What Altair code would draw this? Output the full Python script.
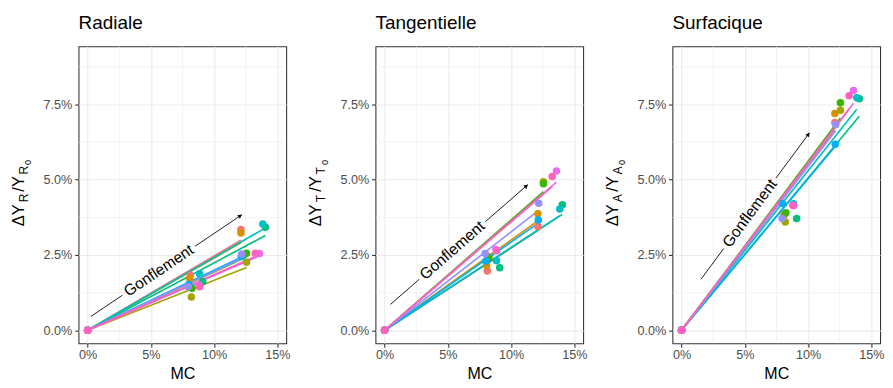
import altair as alt
import pandas as pd

FONT = "Liberation Sans"

# ---- data (in %) ----
SERIES = ["E1", "E2", "E3", "E4", "E5", "E6", "E7", "E8", "E9", "E10"]
COLORS = ["#F8766D", "#D89000", "#A3A500", "#39B600", "#00BF7D",
          "#00BFC4", "#00B0F6", "#9590FF", "#E76BF3", "#FF62BC"]

MC_MID = [8.12, 8.07, 8.20, 8.25, 9.10, 8.85, 8.00, 7.95, 8.80, 8.85]
MC_HIGH = [12.12, 12.12, 12.56, 12.56, 14.05, 13.85, 12.15, 12.18, 13.59, 13.25]

RAD_MID = [1.83, 1.72, 1.11, 1.40, 1.61, 1.88, 1.52, 1.45, 1.50, 1.45]
RAD_HIGH = [3.35, 3.23, 2.26, 2.56, 3.42, 3.53, 2.45, 2.53, 2.55, 2.56]
RAD_SLOPE = [0.247, 0.240, 0.166, 0.194, 0.224, 0.242, 0.200, 0.196, 0.182, 0.185]

TAN_MID = [1.97, 2.15, 2.44, 2.40, 2.08, 2.31, 2.30, 2.55, 2.68, 2.64]
TAN_HIGH = [3.45, 3.87, 4.93, 4.87, 4.17, 4.03, 3.66, 4.22, 5.29, 5.11]
TAN_SLOPE = [0.273, 0.300, 0.366, 0.366, 0.274, 0.275, 0.293, 0.327, 0.362, 0.360]

SUR_MID = [3.85, 3.80, 3.60, 3.90, 3.71, 4.20, 4.20, 3.71, 4.15, 4.14]
SUR_HIGH = [6.90, 7.20, 7.31, 7.56, 7.69, 7.72, 6.18, 6.83, 7.96, 7.79]
SUR_SLOPE = [0.545, 0.550, 0.555, 0.561, 0.506, 0.530, 0.503, 0.545, 0.555, 0.555]

PANELS = ["Radiale", "Tangentielle", "Surfacique"]
SUBS = ["R", "T", "A"]

# annotation arrow ("Gonflement"), in %
ARROW_X0 = [0.25, 0.46, 1.54]
ARROW_Y0 = [0.46, 0.86, 1.70]
ARROW_X1 = [12.2, 11.33, 10.12]
ARROW_Y1 = [3.84, 4.84, 6.56]
ARROW_DEG = [33.9, 41.1, 53.5]
LABEL = "Gonflement"

X_TICKS = [0, 5, 10, 15]
Y_TICKS = [0, 2.5, 5, 7.5]
X_MINOR = [2.5, 7.5, 12.5]
Y_MINOR = [1.25, 3.75, 6.25, 8.75]

W, H = 214, 306
xscale = alt.Scale(domain=[-0.0072, 0.157], nice=False, zero=False)
yscale = alt.Scale(domain=[-0.0043, 0.0943], nice=False, zero=False)
xaxis = alt.Axis(values=[v / 100 for v in X_TICKS], format=".0%", title="MC",
                 titleFontSize=16.5, titleColor="black", titleFontWeight="normal",
                 titleFont=FONT, titlePadding=4, labelPadding=2)
yaxis = alt.Axis(values=[v / 100 for v in Y_TICKS], format=".1%", title=None,
                 labelPadding=3)


def X(f):
    return alt.X(f, type="quantitative", scale=xscale, axis=xaxis)


def Y(f):
    return alt.Y(f, type="quantitative", scale=yscale, axis=yaxis)


color = alt.Color("s:N", scale=alt.Scale(domain=SERIES, range=COLORS), legend=None)


def panel(i, mid, high, slope):
    pts, lns = [], []
    for k, s in enumerate(SERIES):
        pts.append(dict(s=s, x=0.0, y=0.0))
        pts.append(dict(s=s, x=MC_MID[k] / 100, y=mid[k] / 100))
        pts.append(dict(s=s, x=MC_HIGH[k] / 100, y=high[k] / 100))
        lns.append(dict(s=s, k=0, x=0.0, y=0.0))
        lns.append(dict(s=s, k=1, x=MC_HIGH[k] / 100, y=slope[k] * MC_HIGH[k] / 100))
    pts = pd.DataFrame(pts)
    lns = pd.DataFrame(lns)

    minor_x = alt.Chart(pd.DataFrame({"v": [v / 100 for v in X_MINOR]})).mark_rule(
        color="#EBEBEB", strokeWidth=0.6).encode(x=X("v"))
    minor_y = alt.Chart(pd.DataFrame({"v": [v / 100 for v in Y_MINOR]})).mark_rule(
        color="#EBEBEB", strokeWidth=0.6).encode(y=Y("v"))

    lines = alt.Chart(lns).mark_line(strokeWidth=1.7).encode(
        x=X("x"), y=Y("y"), color=color, order="k:Q")
    points = alt.Chart(pts).mark_circle(size=60, opacity=1).encode(
        x=X("x"), y=Y("y"), color=color)

    # arrow with a gap for the label
    x0, y0, x1, y1 = ARROW_X0[i], ARROW_Y0[i], ARROW_X1[i], ARROW_Y1[i]

    def at(f):
        return (x0 + f * (x1 - x0)) / 100, (y0 + f * (y1 - y0)) / 100

    a0, a1, a2, a3 = at(0), at(0.21), at(0.69), at(1.0)
    segs = pd.DataFrame({"x": [a0[0], a2[0]], "y": [a0[1], a2[1]],
                         "x2": [a1[0], a3[0]], "y2": [a1[1], a3[1]]})
    arrow = alt.Chart(segs).mark_rule(color="black", strokeWidth=0.9).encode(
        x=X("x"), y=Y("y"), x2="x2", y2="y2")
    tip = at(0.985)
    head = alt.Chart(pd.DataFrame({"x": [tip[0]], "y": [tip[1]]})).mark_point(
        shape="triangle", filled=True, size=22, color="black", opacity=1,
        angle=90 - ARROW_DEG[i]).encode(x=X("x"), y=Y("y"))
    c = at(0.45)
    label = alt.Chart(pd.DataFrame({"x": [c[0]], "y": [c[1]], "t": [LABEL]})).mark_text(
        font=FONT, fontSize=16, color="black", angle=360 - ARROW_DEG[i],
        align="center", baseline="middle").encode(x=X("x"), y=Y("y"), text="t:N")

    # y axis title built from pieces (with subscripts)
    sub = SUBS[i]
    pieces = [("\u0394Y", 17, -56.5, 185.5), (sub, 12.5, -52, 160.8),
              ("/Y", 17, -56.5, 149.8), (sub, 12.5, -52, 132.2), ("0", 9.5, -49, 122.2)]
    ttl = []
    for t, fs, px, py in pieces:
        ttl.append(alt.Chart(pd.DataFrame({"t": [t]})).mark_text(
            font=FONT, fontSize=fs, color="black", angle=270, align="left",
            baseline="alphabetic").encode(x=alt.value(px), y=alt.value(py), text="t:N"))

    return alt.layer(minor_x, minor_y, lines, points, arrow, head, label, *ttl).properties(
        width=W, height=H,
        title=alt.TitleParams(PANELS[i], anchor="start", frame="group", fontSize=19.5,
                              font=FONT, fontWeight="normal", color="black",
                              baseline="alphabetic", offset=-2))


chart = alt.hconcat(
    panel(0, RAD_MID, RAD_HIGH, RAD_SLOPE),
    panel(1, TAN_MID, TAN_HIGH, TAN_SLOPE),
    panel(2, SUR_MID, SUR_HIGH, SUR_SLOPE),
    spacing=92, bounds="flush",
).properties(
    padding={"left": 0.7, "top": -1.3, "right": 0, "bottom": 0},
    background="white",
).configure_view(
    stroke="#333333", strokeWidth=1.1,
).configure_axis(
    grid=True, gridColor="#EBEBEB", gridWidth=1.1, domain=False,
    tickColor="#333333", tickSize=4, tickWidth=1.1,
    labelColor="#4D4D4D", labelFontSize=13, labelFont=FONT,
)

chart.save("out.html", embed_options={"renderer": "svg", "actions": False})
